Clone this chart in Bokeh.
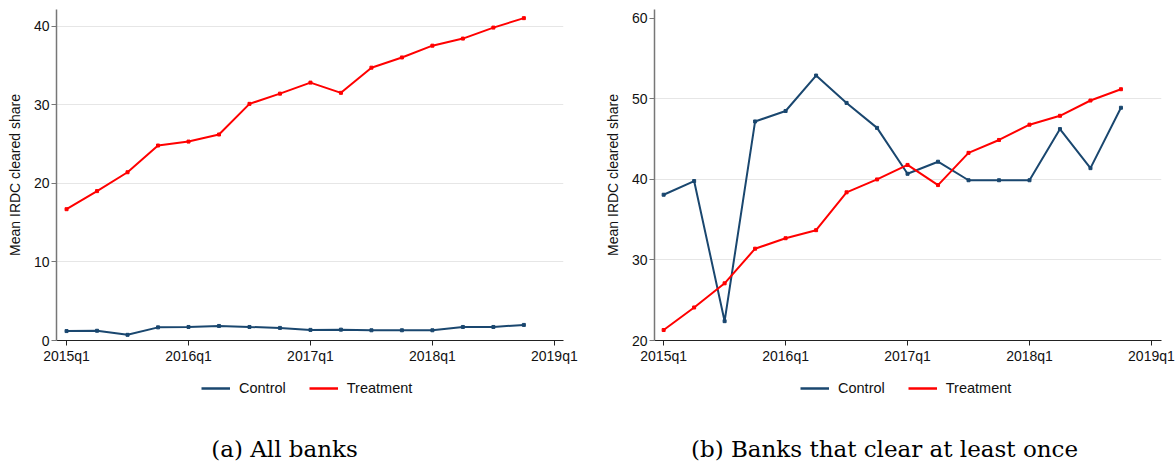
from bokeh.plotting import figure
from bokeh.layouts import row, column
from bokeh.models import (Range1d, Legend, LegendItem, Label, FixedTicker, ColumnDataSource)
from bokeh.embed import file_html
from bokeh.resources import INLINE

quarters = ["2015q1", "2015q2", "2015q3", "2015q4", "2016q1", "2016q2", "2016q3", "2016q4",
            "2017q1", "2017q2", "2017q3", "2017q4", "2018q1", "2018q2", "2018q3", "2018q4"]
tick_labels = ["2015q1", "2016q1", "2017q1", "2018q1", "2019q1"]

all_control = [1.2, 1.24, 0.72, 1.67, 1.72, 1.85, 1.72, 1.6, 1.35, 1.38, 1.3, 1.3, 1.3, 1.72, 1.72, 1.98]
all_treatment = [16.7, 19.0, 21.4, 24.8, 25.3, 26.2, 30.1, 31.4, 32.8, 31.5, 34.7, 36.0, 37.5, 38.4, 39.8, 41.0]
once_control = [38.1, 39.8, 22.4, 47.2, 48.5, 52.9, 49.5, 46.4, 40.7, 42.2, 39.9, 39.9, 39.9, 46.25, 41.4, 48.9]
once_treatment = [21.3, 24.1, 27.1, 31.4, 32.7, 33.7, 38.4, 40.0, 41.8, 39.3, 43.3, 44.9, 46.8, 47.9, 49.8, 51.2]

captions = ["(a) All banks", "(b) Banks that clear at least once"]
ylabel = "Mean IRDC cleared share"
series_names = ["Control", "Treatment"]

NAVY = "#1a476f"
RED = "#ff0000"
FW, FH = 507, 331
TOP_H = 9 + FH + 25
BOT_H = 461 - TOP_H


def qindex(q):
    return (int(q[:4]) - 2015) * 4 + int(q[-1]) - 1


xs = [qindex(q) for q in quarters]
tick_pos = [qindex(t) for t in tick_labels]


def make_panel(control, treatment, caption, yr, yticks, grid_ticks, xr, left, right, leg_x, cap_x):
    p = figure(frame_width=FW, frame_height=FH, output_backend="svg", toolbar_location=None,
               x_range=Range1d(*xr), y_range=Range1d(*yr),
               min_border_left=left, min_border_right=right, min_border_top=9, min_border_bottom=25)
    p.outline_line_color = None
    p.xgrid.grid_line_color = None
    p.ygrid.ticker = FixedTicker(ticks=grid_ticks)
    p.ygrid.grid_line_color = "#e6e6e6"
    p.ygrid.grid_line_width = 1

    p.xaxis.ticker = FixedTicker(ticks=tick_pos)
    p.xaxis.major_label_overrides = {tp: lab for tp, lab in zip(tick_pos, tick_labels)}
    p.yaxis.ticker = FixedTicker(ticks=yticks)
    for ax in (p.xaxis[0], p.yaxis[0]):
        ax.major_tick_out = 5
        ax.major_tick_in = 0
        ax.minor_tick_line_color = None
        ax.major_label_text_font = "Liberation Sans"
        ax.major_label_text_font_size = "14px"
        ax.major_label_text_color = "#111111"
        ax.major_label_standoff = 2
    p.xaxis.axis_line_color = "#222222"
    p.xaxis.major_tick_line_color = "#222222"
    p.yaxis.axis_line_color = "#777777"
    p.yaxis.major_tick_line_color = "#777777"
    p.yaxis.axis_line_width = 1.5
    p.yaxis.axis_label = ylabel
    p.yaxis.axis_label_text_font = "Liberation Sans"
    p.yaxis.axis_label_text_font_size = "14px"
    p.yaxis.axis_label_text_font_style = "normal"
    p.yaxis.axis_label_text_color = "#111111"
    p.yaxis.axis_label_standoff = 8

    src_c = ColumnDataSource(dict(x=xs, y=control))
    src_t = ColumnDataSource(dict(x=xs, y=treatment))
    p.line("x", "y", source=src_c, line_color=NAVY, line_width=2)
    p.scatter("x", "y", source=src_c, marker="square", size=3, color=NAVY)
    p.line("x", "y", source=src_t, line_color=RED, line_width=2)
    p.scatter("x", "y", source=src_t, marker="square", size=3, color=RED)

    # bottom strip (frame aligned with the plot frame above) for legend and caption
    b = figure(frame_width=FW, height=BOT_H, output_backend="svg", toolbar_location=None,
               x_range=Range1d(0, FW), y_range=Range1d(0, BOT_H),
               min_border_left=left, min_border_right=right, min_border_top=0, min_border_bottom=0,
               x_axis_type=None, y_axis_type=None)
    b.outline_line_color = None
    b.xgrid.grid_line_color = None
    b.ygrid.grid_line_color = None
    lc = b.line(x=[-50, -40], y=[-50, -50], line_color=NAVY, line_width=2.5)
    lt = b.line(x=[-50, -40], y=[-50, -50], line_color=RED, line_width=2.5)
    legend = Legend(items=[LegendItem(label=series_names[0], renderers=[lc]),
                           LegendItem(label=series_names[1], renderers=[lt])],
                    orientation="horizontal", location=(leg_x, BOT_H - 22 - 10),
                    border_line_color=None, background_fill_alpha=0,
                    label_text_font="Liberation Sans", label_text_font_size="14.5px",
                    label_text_color="#111111",
                    glyph_width=29, label_standoff=9, spacing=23, margin=0, padding=0)
    b.add_layout(legend, "center")

    lab = Label(x=cap_x, y=BOT_H - 82, text=caption,
                text_align="center", text_baseline="middle", text_font="DejaVu Serif",
                text_font_size="23px", text_color="#000000")
    b.add_layout(lab)
    return column(p, b, spacing=0)


c1 = make_panel(all_control, all_treatment, captions[0], (0, 42.1), [0, 10, 20, 30, 40],
                [10, 20, 30, 40], (-0.33, 16.3), 56, 25, 145, 228)
c2 = make_panel(once_control, once_treatment, captions[1], (20, 61.1), [20, 30, 40, 50, 60],
                [30, 40, 50], (-0.30, 16.33), 66, 14, 146, 230)

layout = row(c1, c2, spacing=0)
open("out.html", "w").write(file_html(layout, INLINE))
